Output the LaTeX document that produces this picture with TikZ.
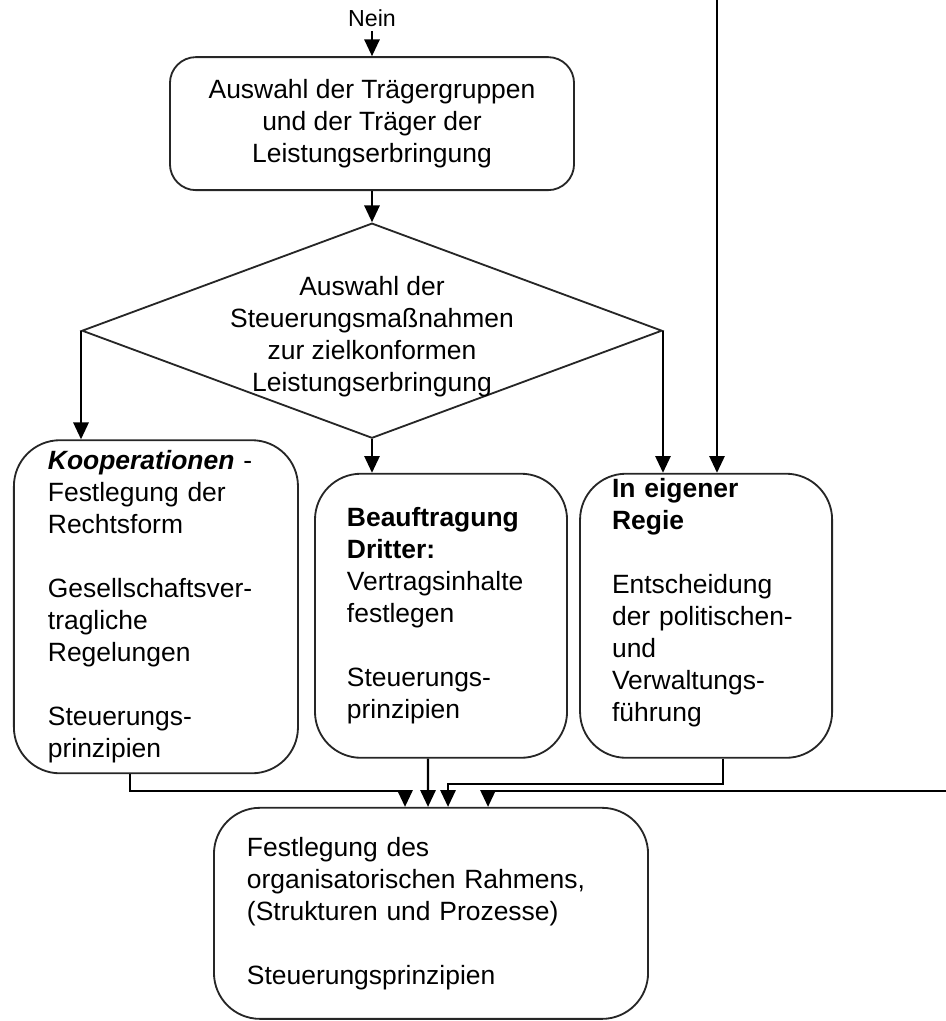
\documentclass[tikz,border=0pt]{standalone}
\usepackage{fontspec}
\setmainfont{Liberation Sans}
\usetikzlibrary{shapes,arrows.meta,positioning}

\begin{document}
\begin{tikzpicture}[
    x=0.025cm, y=-0.025cm,
    font=\fontsize{18.8}{22.8}\selectfont,
    process/.style={rectangle, rounded corners=0.65cm, draw=black!85, line width=1.3pt, align=center, minimum width=10.1cm, minimum height=3.325cm},
    decision/.style={diamond, draw=black!85, line width=1.3pt, inner sep=0pt, minimum width=14.5cm, minimum height=5.375cm},
    option/.style={rectangle, rounded corners=1.15cm, draw=black!85, line width=1.3pt, align=left, text width=4.7cm, inner xsep=0.8cm, inner ysep=0pt, minimum height=7.1cm},
    result/.style={rectangle, rounded corners=1.15cm, draw=black!85, line width=1.3pt, align=left, text width=9.2cm, inner xsep=0.825cm, minimum height=5.275cm},
    arrow/.style={line width=1.6pt, -{Triangle[length=0.42cm, width=0.38cm]}}
]
\useasboundingbox (0,0) rectangle (946,1021);
% Entry
\node[font=\fontsize{16.5}{19}\selectfont] (nein) at (372,18) {Nein};
\coordinate (feed) at (717,0);
\coordinate (back) at (946,791);
% Selection
\node[process, below of=nein, node distance=2.64cm] (traeger) {Auswahl der Trägergruppen\\und der Träger der\\Leistungserbringung};
\node[decision, below of=traeger, node distance=5.175cm, label={[align=center, yshift=-0.15cm]center:Auswahl der\\Steuerungsmaßnahmen\\zur zielkonformen\\Leistungserbringung}] (steuerung) {};
% Three options
\node[option, text width=5.4cm, inner xsep=0.85cm, minimum height=8.325cm, below of=steuerung, node distance=6.9cm, xshift=-5.4cm] (koop) {\textbf{\textit{Kooperationen}} -\\Festlegung der\\Rechtsform\\[\baselineskip]Gesellschaftsver-\\tragliche\\Regelungen\\[\baselineskip]Steuerungs-\\prinzipien};
\node[option, below of=steuerung, node distance=7.125cm, xshift=1.725cm] (dritte) {\textbf{Beauftragung}\\\textbf{Dritter:}\\Vertragsinhalte\\festlegen\\[\baselineskip]Steuerungs-\\prinzipien};
\node[option, below of=steuerung, node distance=7.125cm, xshift=8.35cm] (regie) {\textbf{In eigener}\\\textbf{Regie}\\[\baselineskip]Entscheidung\\der politischen-\\und\\Verwaltungs-\\führung\\\mbox{}};
% Frame
\node[result, below of=dritte, node distance=7.4375cm, xshift=-0.25cm] (rahmen) {Festlegung des\\organisatorischen Rahmens,\\(Strukturen und Prozesse)\\[\baselineskip]Steuerungsprinzipien};
% Arrows
\draw[arrow] (nein) -- (traeger);
\draw[arrow] (traeger) -- (steuerung);
\draw[arrow] (steuerung.west) -- (steuerung.west |- koop.north);
\draw[arrow] (steuerung.south) -- (steuerung.south |- dritte.north);
\draw[arrow] (steuerung.east) -- (steuerung.east |- regie.north);
\draw[arrow] (feed) -- (feed |- regie.north);
\draw[arrow] ([xshift=-0.65cm]koop.south) -- ++(0,17) -| ([xshift=-0.65cm]rahmen.north);
\draw[arrow] ([xshift=-0.325cm]dritte.south) -- ([xshift=-0.075cm]rahmen.north);
\draw[arrow] ([xshift=0.425cm]regie.south) -- ++(0,25) -| ([xshift=0.425cm]rahmen.north);
\draw[arrow] (back) -| ([xshift=1.425cm]rahmen.north);
\end{tikzpicture}
\end{document}
